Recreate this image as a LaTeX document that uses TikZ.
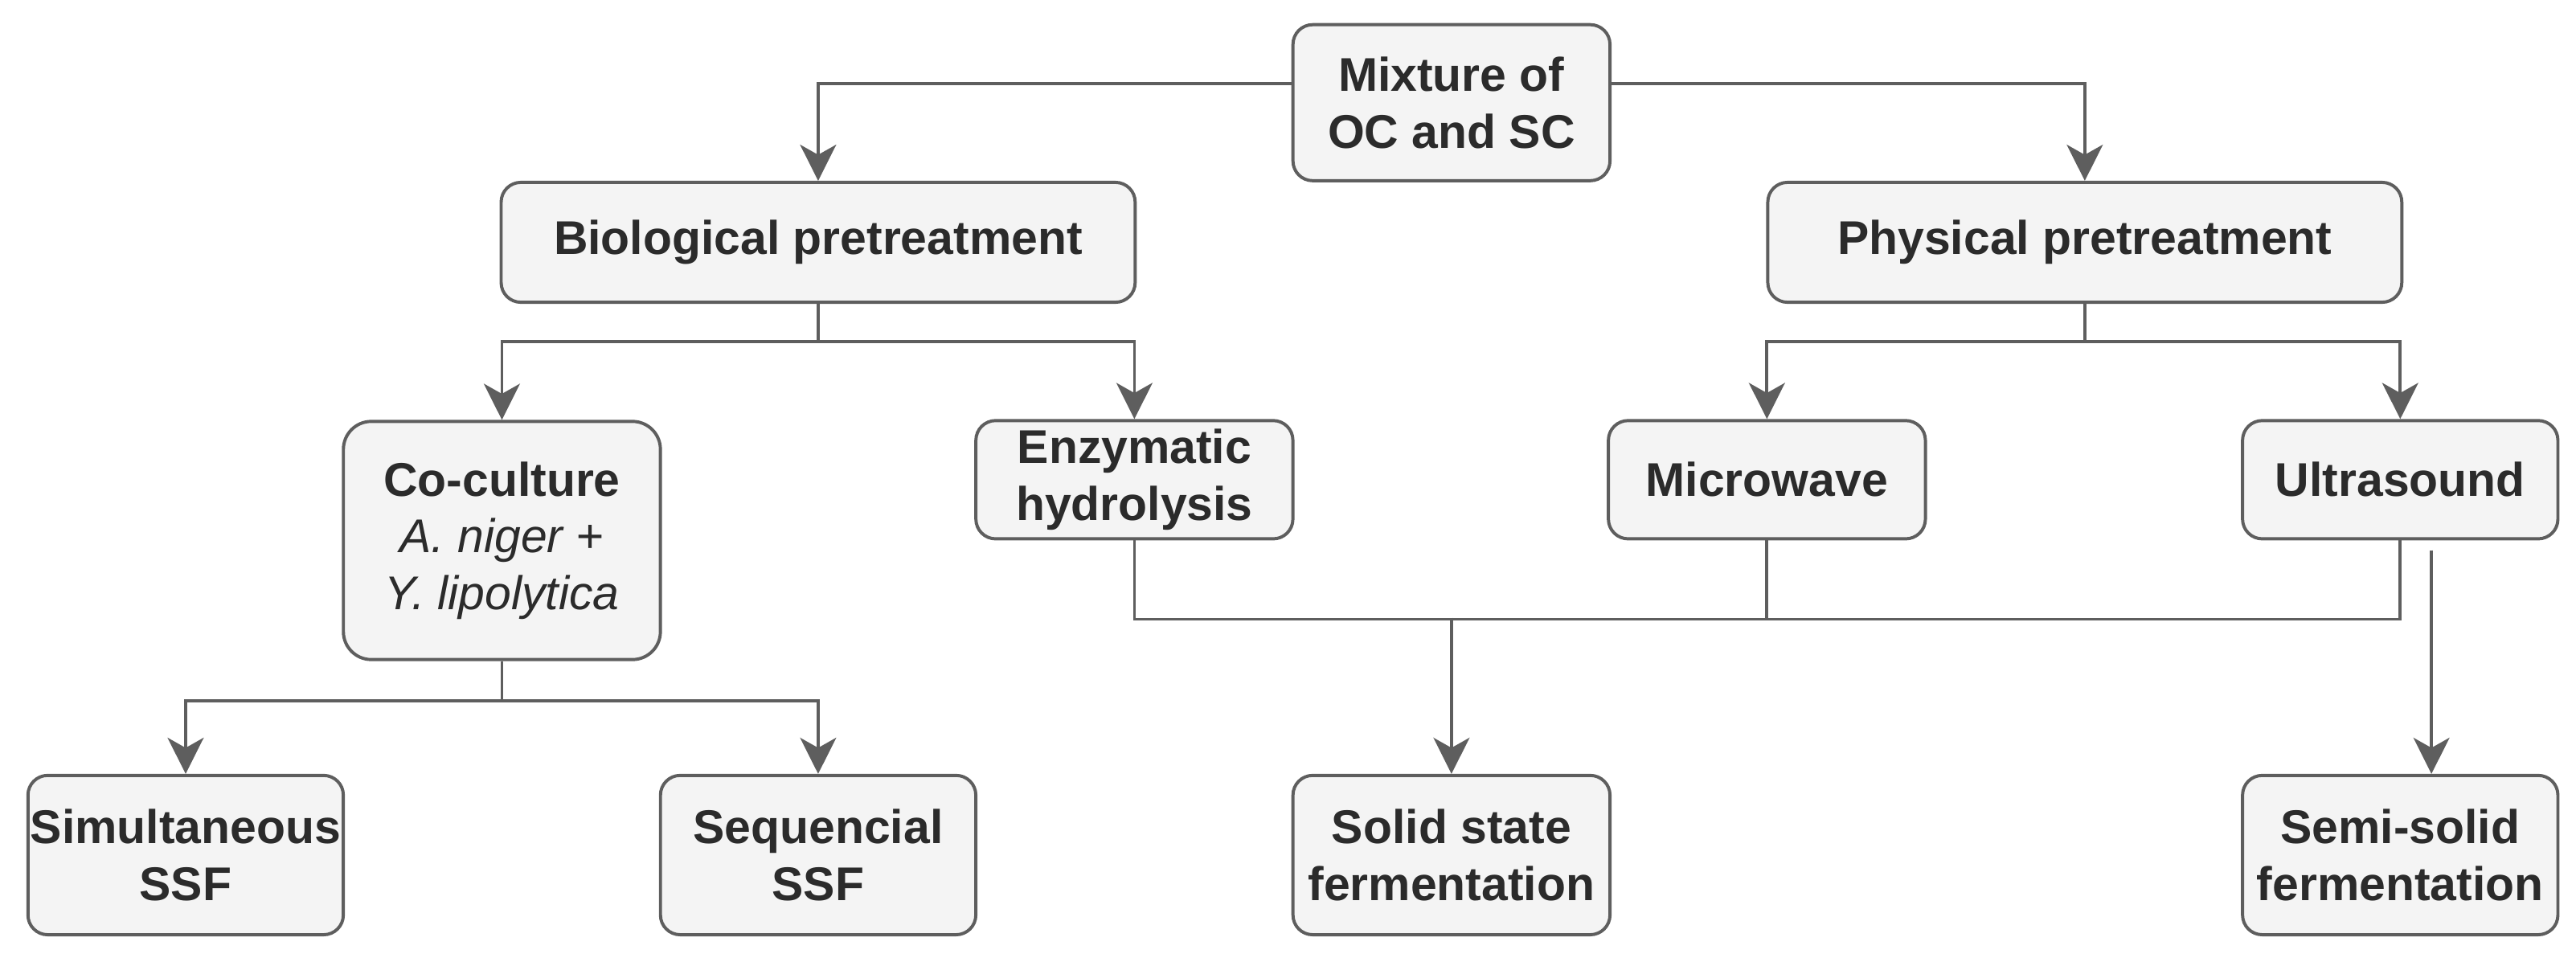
\documentclass[tikz,border=0pt]{standalone}
\usepackage{fontspec}
\setmainfont{Liberation Sans}
\usetikzlibrary{arrows.meta}
\definecolor{linegray}{HTML}{5E5E5E}
\definecolor{boxfill}{HTML}{F4F4F4}
\definecolor{txt}{HTML}{2B2B2B}
\begin{document}
\begin{tikzpicture}[x=0.02cm,y=-0.02cm,
  box/.style={draw=linegray, line width=1.1pt, fill=boxfill, rounded corners=0.24cm,
    inner sep=0pt, align=center, text=txt,
    font=\fontsize{16.4}{19.6}\selectfont\bfseries},
  conn/.style={draw=linegray, line width=1.05pt},
  arr/.style={conn, -{Stealth[length=12.5pt,width=12.5pt,inset=3.5pt]}}]
\useasboundingbox (0,0) rectangle (1568,583);
% nodes
\node[box, minimum width=3.86cm, minimum height=1.9cm] (mix) at (883.5,62.5) {Mixture of\\OC and SC};
\node[box, minimum width=7.72cm, minimum height=1.46cm] (bio) at (498,147.5) {Biological pretreatment};
\node[box, minimum width=7.72cm, minimum height=1.46cm] (phy) at (1269,147.5) {Physical pretreatment};
\node[box, minimum width=3.86cm, minimum height=2.9cm, rounded corners=0.34cm] (co) at (305.5,329)
  {Co-culture\\{\mdseries\itshape A. niger +}\\{\mdseries\itshape Y. lipolytica}};
\node[box, minimum width=3.86cm, minimum height=1.44cm] (enz) at (690.5,292) {Enzymatic\\hydrolysis};
\node[box, minimum width=3.86cm, minimum height=1.44cm] (mic) at (1075.5,292) {Microwave};
\node[box, minimum width=3.84cm, minimum height=1.44cm] (ult) at (1461,292) {Ultrasound};
\node[box, minimum width=3.84cm, minimum height=1.94cm] (sim) at (113,520.5) {Simultaneous\\SSF};
\node[box, minimum width=3.84cm, minimum height=1.94cm] (seq) at (498,520.5) {Sequencial\\SSF};
\node[box, minimum width=3.86cm, minimum height=1.94cm] (sol) at (883.5,520.5) {Solid state\\fermentation};
\node[box, minimum width=3.84cm, minimum height=1.94cm] (semi) at (1461,520.5) {Semi-solid\\fermentation};
% connectors
\draw[arr] ([yshift=0.23cm]mix.west) -| (bio.north);
\draw[arr] ([yshift=0.23cm]mix.east) -| (phy.north);
\draw[arr] (bio.south) -- ++(0,23) -| (co.north);
\draw[arr] (bio.south) -- ++(0,23) -| (enz.north);
\draw[arr] (phy.south) -- ++(0,23) -| (mic.north);
\draw[arr] (phy.south) -- ++(0,23) -| (ult.north);
\draw[arr] (co.south) -- ++(0,24) -| (sim.north);
\draw[arr] (co.south) -- ++(0,24) -| (seq.north);
\draw[conn] (enz.south) -- ++(0,48) -| (ult.south);
\draw[conn] (mic.south) -- ++(0,48);
\coordinate (merge) at (883.5,376);
\draw[arr] (merge) -- (sol.north);
\draw[arr] ([xshift=0.38cm,yshift=-0.12cm]ult.south) -- ([xshift=0.38cm]semi.north);
\end{tikzpicture}
\end{document}
